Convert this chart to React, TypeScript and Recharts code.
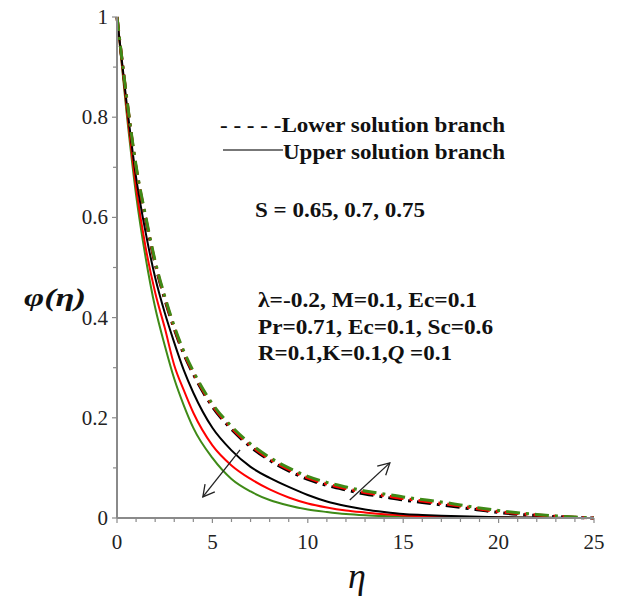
// φ(η) concentration profiles, upper and lower solution branches for S = 0.65, 0.7, 0.75

import { LineChart, Line, XAxis, YAxis, ReferenceLine } from 'recharts';

const eta = [0, 0.5, 1, 1.5, 2, 2.5, 3, 3.5, 4, 5, 6, 7, 8, 9, 10, 11, 12, 13, 14, 15, 16, 17, 18, 19, 20, 21, 22, 23, 24, 25];

// upper solution branch (solid)
const upper065 = [1, 0.83, 0.68, 0.57, 0.48, 0.41, 0.35, 0.295, 0.25, 0.18, 0.135, 0.102, 0.08, 0.062, 0.046, 0.033, 0.024, 0.017, 0.012, 0.008, 0.006, 0.0045, 0.0033, 0.0024, 0.0017, 0.0012, 0.0008, 0.0005, 0.0002, 0];
const upper070 = [1, 0.82, 0.66, 0.54, 0.45, 0.38, 0.305, 0.255, 0.21, 0.145, 0.105, 0.078, 0.057, 0.041, 0.029, 0.021, 0.015, 0.011, 0.0075, 0.0052, 0.0036, 0.0026, 0.0018, 0.0012, 0.0008, 0.0005, 0.0003, 0.0002, 0.0001, 0];
const upper075 = [1, 0.81, 0.645, 0.52, 0.42, 0.345, 0.278, 0.225, 0.18, 0.12, 0.078, 0.053, 0.036, 0.025, 0.017, 0.012, 0.008, 0.0055, 0.0038, 0.0026, 0.0018, 0.0012, 0.0008, 0.0005, 0.0004, 0.0003, 0.0002, 0.0001, 0, 0];

// lower solution branch (dash-dot)
const lower065 = [1, 0.838, 0.697, 0.597, 0.507, 0.437, 0.377, 0.327, 0.287, 0.222, 0.177, 0.142, 0.115, 0.094, 0.077, 0.065, 0.056, 0.048, 0.042, 0.036, 0.031, 0.026, 0.021, 0.016, 0.011, 0.0075, 0.005, 0.0028, 0.0011, 0];
const lower070 = [1, 0.84, 0.7, 0.6, 0.51, 0.44, 0.38, 0.33, 0.29, 0.225, 0.18, 0.145, 0.118, 0.097, 0.08, 0.068, 0.059, 0.051, 0.045, 0.039, 0.034, 0.029, 0.024, 0.018, 0.013, 0.009, 0.006, 0.0035, 0.0015, 0];
const lower075 = [1, 0.842, 0.703, 0.603, 0.513, 0.443, 0.383, 0.333, 0.293, 0.228, 0.183, 0.148, 0.121, 0.1, 0.083, 0.071, 0.062, 0.054, 0.048, 0.042, 0.037, 0.032, 0.026, 0.02, 0.015, 0.0105, 0.007, 0.0042, 0.0019, 0];

const xTicks = [0, 1, 2, 3, 4, 5, 6, 7, 8, 9, 10, 11, 12, 13, 14, 15, 16, 17, 18, 19, 20, 21, 22, 23, 24, 25];
const yTicks = [0, 0.1, 0.2, 0.3, 0.4, 0.5, 0.6, 0.7, 0.8, 0.9, 1];

// arrows showing increasing S (tail -> head, data coords)
const arrowUpper = [{ x: 6.45, y: 0.136 }, { x: 4.5, y: 0.042 }];
const arrowLower = [{ x: 12.2, y: 0.036 }, { x: 14.3, y: 0.11 }];

const rows = eta.map((e, i) => ({
  eta: e,
  u065: upper065[i],
  u070: upper070[i],
  u075: upper075[i],
  l065: lower065[i],
  l070: lower070[i],
  l075: lower075[i],
}));

const SERIF = "'Liberation Serif', 'Times New Roman', 'DejaVu Serif', serif";
const AXIS = '#8a8a8a';
const GREEN = '#3f8a17';
const DASHDOT = '14 6 3 6';

const XTick = (props: any) => {
  const { x, y, payload } = props;
  const major = payload.value % 5 === 0;
  return (
    <g>
      <line x1={x} y1={y} x2={x} y2={y + (major ? 5 : 4)} stroke={AXIS} strokeWidth={1.2} />
      {major && (
        <text x={x} y={y + 31} textAnchor="middle" style={{ fontFamily: SERIF, fontSize: 21 }} fill="#222">
          {payload.value}
        </text>
      )}
    </g>
  );
};

const YTick = (props: any) => {
  const { x, y, payload } = props;
  const k = Math.round(payload.value * 10);
  const major = k % 2 === 0;
  return (
    <g>
      <line x1={x} y1={y} x2={x - (major ? 5 : 4)} y2={y} stroke={AXIS} strokeWidth={1.2} />
      {major && (
        <text x={x - 9} y={y + 7} textAnchor="end" style={{ fontFamily: SERIF, fontSize: 21 }} fill="#222">
          {k === 0 ? '0' : k === 10 ? '1' : (k / 10).toString()}
        </text>
      )}
    </g>
  );
};

const arrowShape = (p: any) => {
  const { x1, y1, x2, y2 } = p;
  const a = Math.atan2(y1 - y2, x1 - x2);
  const len = 13;
  const sp = 0.5;
  return (
    <g stroke="#222" strokeWidth={1.3} fill="none">
      <line x1={x1} y1={y1} x2={x2} y2={y2} />
      <polyline
        points={`${x2 + len * Math.cos(a + sp)},${y2 + len * Math.sin(a + sp)} ${x2},${y2} ${x2 + len * Math.cos(a - sp)},${y2 + len * Math.sin(a - sp)}`}
      />
    </g>
  );
};

const bold = { fontFamily: SERIF, fontWeight: 'bold' as const, fontSize: 20 };

export default function App() {
  return (
    <div style={{ position: 'absolute', left: 0, top: 0, width: 619, height: 603, background: '#fff' }}>
      <LineChart width={619} height={603} data={rows} margin={{ top: 17, right: 25, bottom: 0, left: 0 }}>
        <XAxis
          dataKey="eta"
          type="number"
          domain={[0, 25]}
          ticks={xTicks}
          interval={0}
          height={85}
          tickSize={0}
          tickMargin={0}
          tickLine={false}
          tick={<XTick />}
          axisLine={{ stroke: AXIS, strokeWidth: 2 }}
        />
        <YAxis
          type="number"
          domain={[0, 1]}
          ticks={yTicks}
          interval={0}
          width={117}
          tickSize={0}
          tickMargin={0}
          tickLine={false}
          tick={<YTick />}
          axisLine={{ stroke: AXIS, strokeWidth: 2 }}
        />
        <Line dataKey="u075" stroke={GREEN} strokeWidth={2} dot={false} type="monotone" isAnimationActive={false} />
        <Line dataKey="u070" stroke="#ff0000" strokeWidth={2} dot={false} type="monotone" isAnimationActive={false} />
        <Line dataKey="u065" stroke="#000" strokeWidth={2} dot={false} type="monotone" isAnimationActive={false} />
        <Line dataKey="l065" stroke="#000" strokeWidth={3} strokeDasharray={DASHDOT} dot={false} type="monotone" isAnimationActive={false} />
        <Line dataKey="l070" stroke="#ff0000" strokeWidth={3} strokeDasharray={DASHDOT} dot={false} type="monotone" isAnimationActive={false} />
        <Line dataKey="l075" stroke={GREEN} strokeWidth={3} strokeDasharray={DASHDOT} dot={false} type="monotone" isAnimationActive={false} />
        <ReferenceLine segment={arrowUpper} shape={arrowShape} ifOverflow="visible" />
        <ReferenceLine segment={arrowLower} shape={arrowShape} ifOverflow="visible" />
      </LineChart>
      <svg width={619} height={603} style={{ position: 'absolute', left: 0, top: 0, pointerEvents: 'none' }}>
        <g fill="#111">
          <text x={220} y={132} style={bold} textLength={285} lengthAdjust="spacingAndGlyphs">- - - - -Lower solution branch</text>
          <line x1={223} y1={150} x2={283} y2={150} stroke="#777" strokeWidth={2} />
          <text x={283} y={159} style={bold} textLength={222} lengthAdjust="spacingAndGlyphs">Upper solution branch</text>
          <text x={255} y={217} style={bold} textLength={170} lengthAdjust="spacingAndGlyphs">S = 0.65, 0.7, 0.75</text>
          <text x={258} y={307} style={bold} textLength={219} lengthAdjust="spacingAndGlyphs">λ=-0.2, M=0.1, Ec=0.1</text>
          <text x={258} y={334} style={bold} textLength={235} lengthAdjust="spacingAndGlyphs">Pr=0.71, Ec=0.1, Sc=0.6</text>
          <text x={258} y={360} style={bold} textLength={194} lengthAdjust="spacingAndGlyphs">
            R=0.1,K=0.1,<tspan style={{ fontStyle: 'italic' }}>Q</tspan> =0.1
          </text>
        </g>
        <text
          x={24}
          y={306}
          style={{ fontFamily: SERIF, fontWeight: 'bold', fontStyle: 'italic', fontSize: 25 }}
          fill="#111"
          textLength={62}
          lengthAdjust="spacingAndGlyphs"
        >
          φ(η)
        </text>
        <text x={357} y={588} textAnchor="middle" style={{ fontFamily: SERIF, fontStyle: 'italic', fontSize: 36 }} fill="#111">
          η
        </text>
      </svg>
    </div>
  );
}
